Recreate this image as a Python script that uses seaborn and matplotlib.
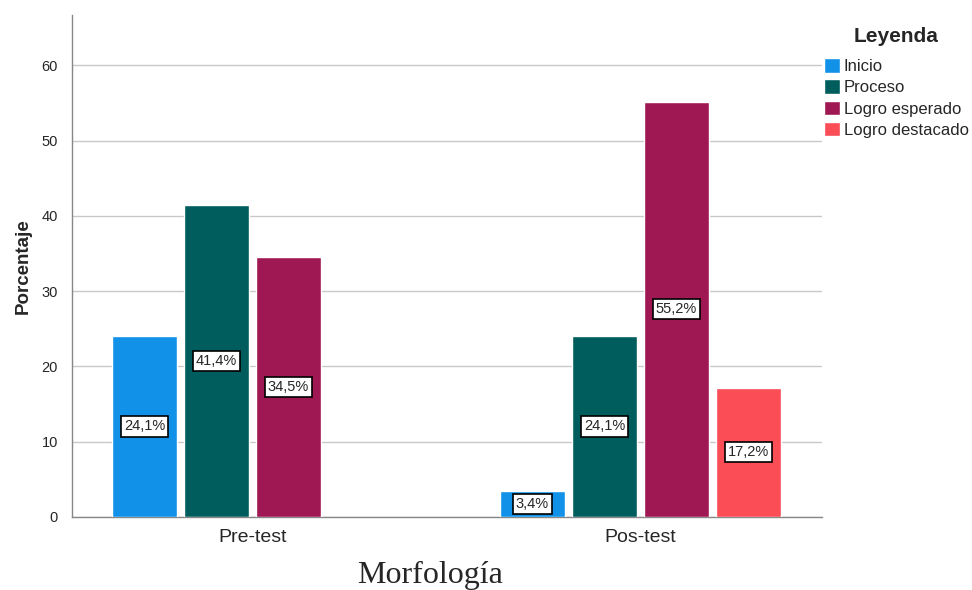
import pandas as pd
import matplotlib.pyplot as plt
import seaborn as sns

# Data
momentos = ['Pre-test', 'Pre-test', 'Pre-test', 'Pos-test', 'Pos-test', 'Pos-test', 'Pos-test']
niveles = ['Inicio', 'Proceso', 'Logro esperado', 'Inicio', 'Proceso', 'Logro esperado', 'Logro destacado']
porcentajes = [24.1, 41.4, 34.5, 3.4, 24.1, 55.2, 17.2]

orden_niveles = ['Inicio', 'Proceso', 'Logro esperado', 'Logro destacado']
colores = ['#1192E8', '#005D5D', '#9F1853', '#FA4D56']

df = pd.DataFrame({'Momento': momentos, 'Nivel': niveles, 'Porcentaje': porcentajes})

sns.set_style('white')
plt.rcParams['font.family'] = ['Liberation Sans', 'DejaVu Sans']

fig = plt.figure(figsize=(9.72, 5.9), dpi=100)
ax = fig.add_axes([72 / 972, 73 / 590, 750 / 972, 502 / 590])

sns.barplot(data=df, x='Momento', y='Porcentaje', hue='Nivel',
            order=['Pre-test', 'Pos-test'], hue_order=orden_niveles,
            palette=colores, width=0.742, gap=0.1, saturation=1,
            ax=ax, legend=True, zorder=3)

# Labels centered in the bars
for cont in ax.containers:
    vals = [b.get_height() for b in cont]
    labs = [f"{v:.1f}".replace('.', ',') + '%' if v > 0 else '' for v in vals]
    ax.bar_label(cont, labels=labs, label_type='center', fontsize=10.5, zorder=5,
                 bbox=dict(boxstyle='square,pad=0.22', fc='white', ec='black', lw=1.2))

ax.set_ylim(0, 66.7)
ax.set_xlim(-0.465, 1.468)
ax.set_yticks(range(0, 61, 10))
ax.yaxis.grid(True, color='#c8c8c8', lw=1, zorder=0)
ax.set_axisbelow(True)
for s in ['top', 'right']:
    ax.spines[s].set_visible(False)
for s in ['left', 'bottom']:
    ax.spines[s].set_color('#888888')
    ax.spines[s].set_linewidth(1)
ax.tick_params(axis='y', labelsize=10.5, length=0, pad=10)
ax.tick_params(axis='x', labelsize=14, length=0, pad=9)
ax.set_xlabel('')
ax.set_ylabel('Porcentaje', fontsize=13.5, fontweight='bold', labelpad=7)

fig.text(430 / 972, 1 - 575 / 590, 'Morfología', fontsize=23,
         family=['Liberation Serif', 'DejaVu Serif'], ha='center', va='center')

handles, labels = ax.get_legend_handles_labels()
ax.get_legend().remove()
leg = fig.legend(handles, labels, loc='upper left', bbox_to_anchor=(817 / 972, 1 - 20 / 590),
                 frameon=False, fontsize=12, title='Leyenda',
                 title_fontproperties={'weight': 'bold', 'size': 15},
                 handlelength=0.95, handleheight=0.95, handletextpad=0.25,
                 labelspacing=0.32, borderaxespad=0)
leg._legend_box.sep = 9

fig.savefig('out.png', dpi=100)
